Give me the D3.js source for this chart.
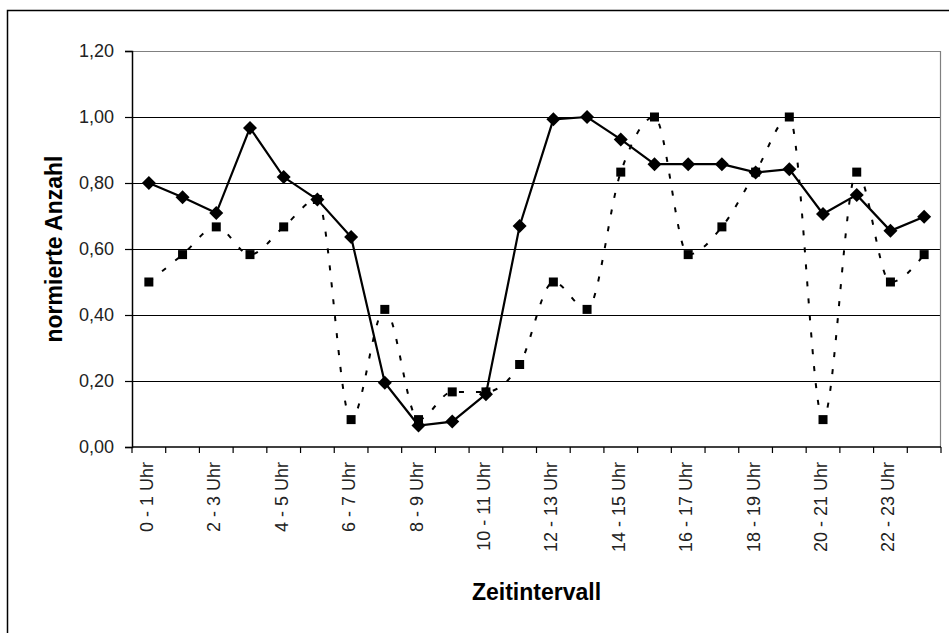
<!DOCTYPE html>
<html>
<head>
<meta charset="utf-8">
<script src="https://cdn.jsdelivr.net/npm/d3@7"></script>
<style>
  body { margin: 0; background: #fff; }
  svg { display: block; font-family: "Liberation Sans", Arial, sans-serif; }
</style>
</head>
<body>
<div id="chart"></div>
<script>
const categories = [
  "0 - 1 Uhr", "1 - 2 Uhr", "2 - 3 Uhr", "3 - 4 Uhr", "4 - 5 Uhr", "5 - 6 Uhr",
  "6 - 7 Uhr", "7 - 8 Uhr", "8 - 9 Uhr", "9 - 10 Uhr", "10 - 11 Uhr", "11 - 12 Uhr",
  "12 - 13 Uhr", "13 - 14 Uhr", "14 - 15 Uhr", "15 - 16 Uhr", "16 - 17 Uhr", "17 - 18 Uhr",
  "18 - 19 Uhr", "19 - 20 Uhr", "20 - 21 Uhr", "21 - 22 Uhr", "22 - 23 Uhr", "23 - 24 Uhr"
];
const solidValues = [
  0.80, 0.757, 0.709, 0.967, 0.818, 0.75, 0.636, 0.195, 0.065, 0.077, 0.16, 0.67,
  0.993, 1.00, 0.932, 0.857, 0.857, 0.857, 0.832, 0.842, 0.706, 0.764, 0.655, 0.698
];
const dottedValues = [
  0.50, 0.583, 0.667, 0.583, 0.667, 0.75, 0.083, 0.417, 0.083, 0.167, 0.167, 0.25,
  0.50, 0.417, 0.833, 1.00, 0.583, 0.667, 0.833, 1.00, 0.083, 0.833, 0.50, 0.583
];
const yTicks = [0, 0.2, 0.4, 0.6, 0.8, 1.0, 1.2];
const yTitle = "normierte Anzahl";
const xTitle = "Zeitintervall";

const width = 949;
const height = 633;
const plot = { left: 132, top: 51, right: 941, bottom: 447 };

const svg = d3.select("#chart").append("svg").attr("width", width).attr("height", height);

svg.append("rect")
  .attr("x", 7.5).attr("y", 10.5)
  .attr("width", 980).attr("height", 700)
  .attr("fill", "none").attr("stroke", "#000").attr("stroke-width", 1.5);

const x = d3.scaleBand().domain(categories).range([plot.left, plot.right]);
const y = d3.scaleLinear().domain([0, 1.2]).range([plot.bottom, plot.top]);
const cx = d => x(d) + x.bandwidth() / 2;

// gridlines
svg.append("g")
  .selectAll("line")
  .data(yTicks.filter(t => t > 0 && t < 1.2))
  .enter().append("line")
  .attr("x1", plot.left).attr("x2", plot.right)
  .attr("y1", d => y(d) + 0.5).attr("y2", d => y(d) + 0.5)
  .attr("stroke", "#000").attr("stroke-width", 1);

// plot area border (top/right grey)
svg.append("path")
  .attr("d", `M${plot.left},${y(1.2) + 0.5}H${plot.right - 0.5}V${plot.bottom}`)
  .attr("fill", "none").attr("stroke", "#808080").attr("stroke-width", 1.2);

// y axis
const yAxis = svg.append("g").attr("transform", `translate(${plot.left},0)`)
  .call(d3.axisLeft(y).tickValues(yTicks).tickSize(7).tickPadding(11)
    .tickFormat(d => d3.format(".2f")(d).replace(".", ",")));
yAxis.select(".domain").attr("stroke", "#000").attr("stroke-width", 1.5);
yAxis.selectAll(".tick line").attr("stroke", "#000").attr("stroke-width", 1.2);
yAxis.selectAll("text").attr("font-size", "18px").attr("fill", "#222")
  .attr("font-family", "'Liberation Sans', Arial, sans-serif");

// x axis: ticks at category boundaries
const boundaries = d3.range(categories.length + 1).map(i => plot.left + i * x.step());
svg.append("line")
  .attr("x1", plot.left).attr("x2", plot.right)
  .attr("y1", plot.bottom).attr("y2", plot.bottom)
  .attr("stroke", "#000").attr("stroke-width", 1.5);
svg.append("g")
  .selectAll("line")
  .data(boundaries)
  .enter().append("line")
  .attr("x1", d => d).attr("x2", d => d)
  .attr("y1", plot.bottom).attr("y2", plot.bottom + 6)
  .attr("stroke", "#000").attr("stroke-width", 1.2);

svg.append("g")
  .selectAll("text")
  .data(categories.filter((c, i) => i % 2 === 0))
  .enter().append("text")
  .attr("transform", d => `translate(${cx(d) + 4},${plot.bottom + 15}) rotate(-90)`)
  .attr("text-anchor", "end")
  .attr("font-size", "18px")
  .attr("fill", "#222")
  .text(d => d);

// dotted smoothed series with squares
const dottedLine = d3.line()
  .x((d, i) => cx(categories[i]))
  .y(d => y(d))
  .curve(d3.curveMonotoneX);

svg.append("path")
  .datum(dottedValues)
  .attr("d", dottedLine)
  .attr("fill", "none")
  .attr("stroke", "#000")
  .attr("stroke-width", 2)
  .attr("stroke-dasharray", "5,12");

svg.append("g")
  .selectAll("rect")
  .data(dottedValues)
  .enter().append("rect")
  .attr("x", (d, i) => cx(categories[i]) - 4.5)
  .attr("y", d => y(d) - 4.5)
  .attr("width", 9).attr("height", 9)
  .attr("fill", "#000");

// solid series with diamonds
const solidLine = d3.line()
  .x((d, i) => cx(categories[i]))
  .y(d => y(d));

svg.append("path")
  .datum(solidValues)
  .attr("d", solidLine)
  .attr("fill", "none")
  .attr("stroke", "#000")
  .attr("stroke-width", 2.2);

svg.append("g")
  .selectAll("path")
  .data(solidValues)
  .enter().append("path")
  .attr("d", "M0,-7L7,0L0,7L-7,0Z")
  .attr("transform", (d, i) => `translate(${cx(categories[i])},${y(d)})`)
  .attr("fill", "#000");

// axis titles
svg.append("text")
  .attr("x", (plot.left + plot.right) / 2)
  .attr("y", 600)
  .attr("text-anchor", "middle")
  .attr("font-size", "23px")
  .attr("font-weight", "bold")
  .text(xTitle);

svg.append("text")
  .attr("transform", `translate(62,${(plot.top + plot.bottom) / 2}) rotate(-90)`)
  .attr("text-anchor", "middle")
  .attr("font-size", "23px")
  .attr("font-weight", "bold")
  .text(yTitle);
</script>
</body>
</html>
